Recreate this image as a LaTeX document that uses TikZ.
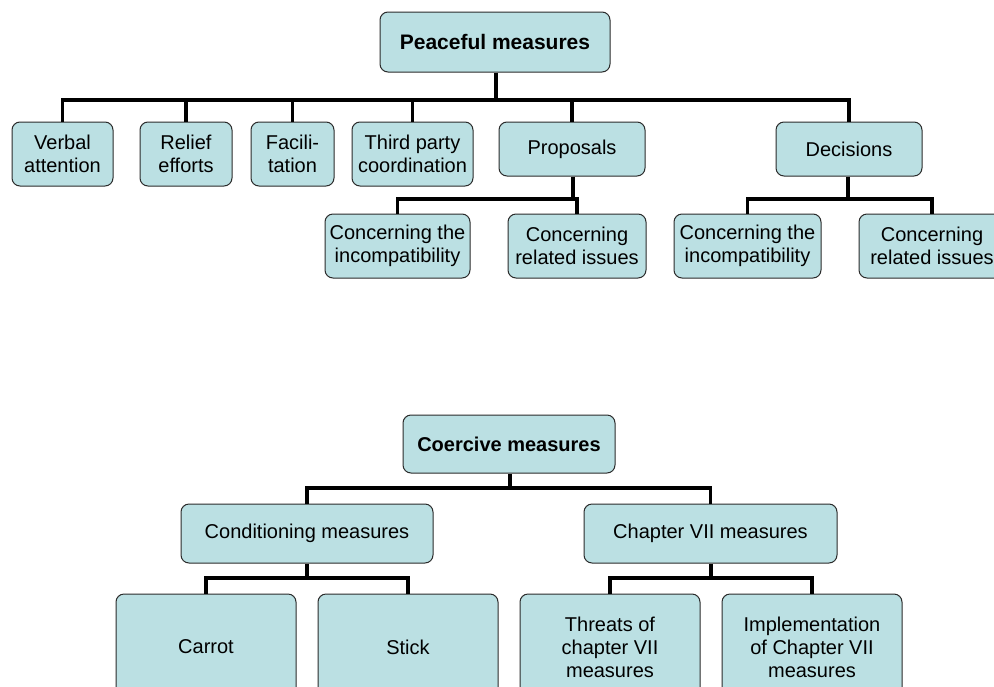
\documentclass[tikz,border=0pt]{standalone}
\usepackage{fontspec}
\setmainfont{Liberation Sans}
\definecolor{boxfill}{HTML}{BBE0E3}
\definecolor{boxline}{HTML}{2B2B2B}
\begin{document}
\begin{tikzpicture}[x=1pt,y=-1pt,
  box/.style={draw=boxline,line width=1pt,fill=boxfill,rounded corners=8pt,
    inner sep=0pt,align=center,font=\fontsize{20}{23}\selectfont},
  conn/.style={line width=3.5pt,black}]
\useasboundingbox (0,0) rectangle (994,686);
% Peaceful tree
\node[box,minimum width=230,minimum height=60,font=\fontsize{21}{24}\selectfont\bfseries] (peace) at (495,42) {Peaceful measures};
\node[box,minimum width=101,minimum height=64] (verbal) at (62.5,154) {Verbal\\attention};
\node[box,minimum width=92,minimum height=64] (relief) at (186,154) {Relief\\efforts};
\node[box,minimum width=83,minimum height=64] (facil) at (292.5,154) {Facili-\\tation};
\node[box,minimum width=121,minimum height=64] (third) at (412.5,154) {Third party\\coordination};
\node[box,minimum width=146,minimum height=54] (prop) at (572,149) {Proposals};
\node[box,minimum width=146,minimum height=54] (dec) at (849,149) {Decisions};
\node[box,minimum width=145,minimum height=64] (pinc) at (397.5,246) {Concerning the\\incompatibility};
\node[box,minimum width=138,minimum height=64] (prel) at (577,246) {Concerning\\related issues};
\node[box,minimum width=147,minimum height=64] (dinc) at (747.5,246) {Concerning the\\incompatibility};
\node[box,minimum width=146,minimum height=64] (drel) at (932,246) {Concerning\\related issues};
\coordinate (pbar) at (496,100);
\coordinate (propbar) at (573,199);
\coordinate (decbar) at (848,199);
\draw[conn] (peace.south -| pbar) -- (pbar);
\foreach \c in {verbal,relief,facil,third,prop,dec}
  \draw[conn] (\c.north) |- (pbar);
\draw[conn] (prop.south -| propbar) -- (propbar);
\foreach \c in {pinc,prel}
  \draw[conn] (\c.north) |- (propbar);
\draw[conn] (dec.south -| decbar) -- (decbar);
\foreach \c in {dinc,drel}
  \draw[conn] (\c.north) |- (decbar);
% Coercive tree
\node[box,minimum width=212,minimum height=58,font=\fontsize{20}{23}\selectfont\bfseries] (coer) at (509,444) {Coercive measures};
\node[box,minimum width=252,minimum height=59] (cond) at (307,533.5) {Conditioning measures};
\node[box,minimum width=253,minimum height=59] (chap) at (710.5,533.5) {Chapter VII measures};
\node[box,minimum width=180,minimum height=106] (carrot) at (206,647) {Carrot};
\node[box,minimum width=180,minimum height=106] (stick) at (408,647) {Stick};
\node[box,minimum width=180,minimum height=106] (threat) at (610,647) {Threats of\\chapter VII\\measures};
\node[box,minimum width=180,minimum height=106] (impl) at (812,647) {Implementation\\of Chapter VII\\measures};
\coordinate (cbar) at (510,488);
\coordinate (condbar) at (307,578);
\coordinate (chapbar) at (711,578);
\draw[conn] (coer.south -| cbar) -- (cbar);
\foreach \c in {cond,chap}
  \draw[conn] (\c.north) |- (cbar);
\draw[conn] (cond.south) -- (condbar);
\foreach \c in {carrot,stick}
  \draw[conn] (\c.north) |- (condbar);
\draw[conn] (chap.south -| chapbar) -- (chapbar);
\foreach \c in {threat,impl}
  \draw[conn] (\c.north) |- (chapbar);
\end{tikzpicture}
\end{document}
